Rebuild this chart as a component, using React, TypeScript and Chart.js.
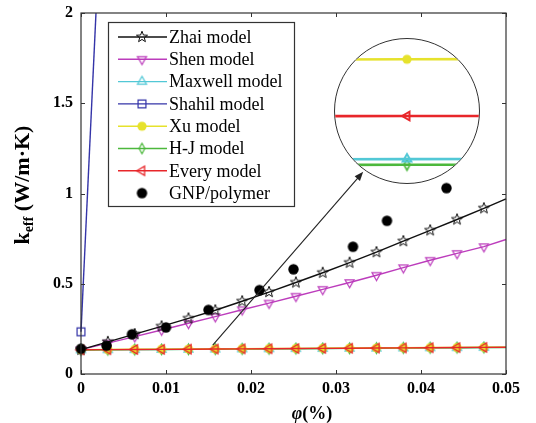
import React, { useEffect, useRef } from 'react';
import { Chart, registerables } from 'chart.js';

Chart.register(...registerables);

const FONT = "'Liberation Serif', 'Times New Roman', serif";

// volume fraction at which model curves are sampled (last one carries no marker)
const phi = [0, 0.00316, 0.00632, 0.00948, 0.01264, 0.0158, 0.01896, 0.02212, 0.02528, 0.02844, 0.0316, 0.03476, 0.03792, 0.04108, 0.04424, 0.0474, 0.05];

const zhai = [0.135, 0.178, 0.221, 0.264, 0.308, 0.353, 0.403, 0.454, 0.507, 0.561, 0.617, 0.675, 0.736, 0.796, 0.856, 0.918, 0.970];
const shen = [0.135, 0.171, 0.207, 0.244, 0.281, 0.318, 0.356, 0.393, 0.431, 0.469, 0.507, 0.547, 0.589, 0.630, 0.668, 0.706, 0.745];
const maxwell = [0.13324, 0.13414, 0.13504, 0.13594, 0.13674, 0.13764, 0.13854, 0.13944, 0.14034, 0.14124, 0.14204, 0.14294, 0.14384, 0.14474, 0.14564, 0.14654, 0.14724];
const xu = [0.1350, 0.1359, 0.1368, 0.1377, 0.1385, 0.1394, 0.1403, 0.1412, 0.1421, 0.1430, 0.1438, 0.1447, 0.1456, 0.1465, 0.1474, 0.1483, 0.1490];
const hj = [0.13314, 0.13404, 0.13494, 0.13584, 0.13664, 0.13754, 0.13844, 0.13934, 0.14024, 0.14114, 0.14194, 0.14284, 0.14374, 0.14464, 0.14554, 0.14644, 0.14714];
const every = [0.1340, 0.1349, 0.1358, 0.1367, 0.1375, 0.1384, 0.1393, 0.1402, 0.1411, 0.1420, 0.1428, 0.1437, 0.1446, 0.1455, 0.1464, 0.1473, 0.1480];

const shahilPhi = [0, 0.00316];
const shahil = [0.234, 3.40];

const gnpPhi = [0, 0.003, 0.006, 0.01, 0.015, 0.021, 0.025, 0.032, 0.036, 0.043];
const gnp = [0.14, 0.157, 0.22, 0.258, 0.355, 0.465, 0.58, 0.705, 0.849, 1.03];

const xTicks = [0, 0.01, 0.02, 0.03, 0.04, 0.05];
const xTickLabels = ['0', '0.01', '0.02', '0.03', '0.04', '0.05'];
const yTicks = [0, 0.5, 1, 1.5, 2];
const yTickLabels = ['0', '0.5', '1', '1.5', '2'];

const legendLabels = ['Zhai model', 'Shen model', 'Maxwell model', 'Shahil model', 'Xu model', 'H-J model', 'Every model', 'GNP/polymer'];

// magnified view (inset) around one sample point
const insetCenterIndex = 5;
const insetHalfWidth = 0.00001;
const insetYMin = 0.137218;
const insetYMax = 0.139758;
const arrowFrom = [0.0155, 0.16];
const arrowTo = [0.0332, 1.12];

const C = {
  zhai: '#111111',
  shen: '#bc3cbc',
  maxwell: '#52c8d6',
  shahil: '#3434a8',
  xu: '#e6e22c',
  hj: '#4cb83c',
  every: '#e8262a',
  gnp: '#000000',
};

type Shape = 'star' | 'triDown' | 'triUp' | 'triLeft' | 'square' | 'diamond' | 'circle';

function makeMarker(shape: Shape, r: number, stroke: string | null, fill: string | null, lw: number): HTMLCanvasElement {
  const pad = Math.ceil(lw) + 1;
  const size = Math.ceil(2 * r) + 2 * pad;
  const c = document.createElement('canvas');
  c.width = size;
  c.height = size;
  const g = c.getContext('2d')!;
  const cx = size / 2;
  const cy = size / 2;
  g.beginPath();
  if (shape === 'star') {
    for (let i = 0; i < 10; i++) {
      const a = -Math.PI / 2 + (i * Math.PI) / 5;
      const rr = i % 2 === 0 ? r : r * 0.42;
      const px = cx + rr * Math.cos(a);
      const py = cy + rr * Math.sin(a);
      if (i === 0) g.moveTo(px, py);
      else g.lineTo(px, py);
    }
  } else if (shape === 'triDown') {
    g.moveTo(cx, cy + r);
    g.lineTo(cx - r * 0.87, cy - r * 0.5);
    g.lineTo(cx + r * 0.87, cy - r * 0.5);
  } else if (shape === 'triUp') {
    g.moveTo(cx, cy - r);
    g.lineTo(cx - r * 0.87, cy + r * 0.5);
    g.lineTo(cx + r * 0.87, cy + r * 0.5);
  } else if (shape === 'triLeft') {
    g.moveTo(cx - r, cy);
    g.lineTo(cx + r * 0.5, cy - r * 0.87);
    g.lineTo(cx + r * 0.5, cy + r * 0.87);
  } else if (shape === 'square') {
    g.rect(cx - r * 0.82, cy - r * 0.82, r * 1.64, r * 1.64);
  } else if (shape === 'diamond') {
    g.moveTo(cx, cy - r);
    g.lineTo(cx + r * 0.55, cy);
    g.lineTo(cx, cy + r);
    g.lineTo(cx - r * 0.55, cy);
  } else {
    g.arc(cx, cy, r, 0, Math.PI * 2);
  }
  g.closePath();
  if (fill) {
    g.fillStyle = fill;
    g.fill();
  }
  if (stroke) {
    g.strokeStyle = stroke;
    g.lineWidth = lw;
    g.lineJoin = 'miter';
    g.stroke();
  }
  return c;
}

const pts = (xs: number[], ys: number[]) => xs.map((x, i) => ({ x, y: ys[i] }));

export default function App() {
  const mainRef = useRef<HTMLCanvasElement>(null);
  const insetRef = useRef<HTMLCanvasElement>(null);

  useEffect(() => {
    const m = {
      zhai: makeMarker('star', 5.8, C.zhai, null, 1),
      shen: makeMarker('triDown', 5.2, C.shen, null, 1.2),
      maxwell: makeMarker('triUp', 5.2, C.maxwell, null, 1.2),
      shahil: makeMarker('square', 4.8, C.shahil, null, 1.2),
      xu: makeMarker('circle', 4.6, null, C.xu, 1),
      hj: makeMarker('diamond', 5.2, C.hj, null, 1.2),
      every: makeMarker('triLeft', 5.2, C.every, null, 1.3),
      gnp: makeMarker('circle', 5.2, null, C.gnp, 1),
    };
    const last = phi.length - 1;
    const series = (label: string, ys: number[], color: string, marker: HTMLCanvasElement, order: number) => ({
      label,
      data: pts(phi, ys),
      borderColor: color,
      backgroundColor: color,
      borderWidth: 1.4,
      pointStyle: marker,
      pointRadius: (c: any) => (c.dataIndex === last ? 0 : 5),
      pointHoverRadius: 0,
      showLine: true,
      tension: 0,
      order,
      clip: false,
    });

    const datasets: any[] = [
      series(legendLabels[0], zhai, C.zhai, m.zhai, 5),
      series(legendLabels[1], shen, C.shen, m.shen, 6),
      series(legendLabels[2], maxwell, C.maxwell, m.maxwell, 4),
      {
        label: legendLabels[3],
        data: pts(shahilPhi, shahil),
        borderColor: C.shahil,
        backgroundColor: C.shahil,
        borderWidth: 1.4,
        pointStyle: m.shahil,
        pointRadius: 5,
        pointHoverRadius: 0,
        showLine: true,
        tension: 0,
        order: 7,
        clip: { left: 10, top: 0, right: 0, bottom: 10 },
      },
      series(legendLabels[4], xu, C.xu, m.xu, 2),
      series(legendLabels[5], hj, C.hj, m.hj, 3),
      series(legendLabels[6], every, C.every, m.every, 1),
      {
        label: legendLabels[7],
        data: pts(gnpPhi, gnp),
        borderColor: C.gnp,
        backgroundColor: C.gnp,
        pointStyle: m.gnp,
        pointRadius: 5,
        pointHoverRadius: 0,
        showLine: false,
        order: 0,
        clip: false,
      },
    ];
    const legendMarkers = [m.zhai, m.shen, m.maxwell, m.shahil, m.xu, m.hj, m.every, m.gnp];

    const decor = {
      id: 'decor',
      afterDatasetsDraw(chart: any) {
        const { ctx, chartArea: a, scales } = chart;
        const sx = scales.x;
        const sy = scales.y;
        ctx.save();
        // arrow pointing to the magnified view
        const x0 = sx.getPixelForValue(arrowFrom[0]);
        const y0 = sy.getPixelForValue(arrowFrom[1]);
        const x1 = sx.getPixelForValue(arrowTo[0]);
        const y1 = sy.getPixelForValue(arrowTo[1]);
        const ang = Math.atan2(y1 - y0, x1 - x0);
        ctx.strokeStyle = '#222';
        ctx.fillStyle = '#222';
        ctx.lineWidth = 1.1;
        ctx.beginPath();
        ctx.moveTo(x0, y0);
        ctx.lineTo(x1 - 7 * Math.cos(ang), y1 - 7 * Math.sin(ang));
        ctx.stroke();
        ctx.beginPath();
        ctx.moveTo(x1, y1);
        ctx.lineTo(x1 - 9 * Math.cos(ang) + 3.5 * Math.sin(ang), y1 - 9 * Math.sin(ang) - 3.5 * Math.cos(ang));
        ctx.lineTo(x1 - 9 * Math.cos(ang) - 3.5 * Math.sin(ang), y1 - 9 * Math.sin(ang) + 3.5 * Math.cos(ang));
        ctx.closePath();
        ctx.fill();

        // frame with inward ticks
        ctx.strokeStyle = '#333';
        ctx.lineWidth = 1.2;
        ctx.strokeRect(a.left, a.top, a.right - a.left, a.bottom - a.top);
        ctx.lineWidth = 1;
        ctx.beginPath();
        xTicks.forEach((v) => {
          const px = Math.round(sx.getPixelForValue(v)) + 0.5;
          ctx.moveTo(px, a.bottom);
          ctx.lineTo(px, a.bottom - 4);
          ctx.moveTo(px, a.top);
          ctx.lineTo(px, a.top + 4);
        });
        yTicks.forEach((v) => {
          const py = Math.round(sy.getPixelForValue(v)) + 0.5;
          ctx.moveTo(a.left, py);
          ctx.lineTo(a.left + 4, py);
          ctx.moveTo(a.right, py);
          ctx.lineTo(a.right - 4, py);
        });
        ctx.stroke();
        ctx.restore();
      },
      afterDraw(chart: any) {
        const { ctx } = chart;
        ctx.save();
        // legend
        const bx = 108.5;
        const by = 22.5;
        const bw = 186;
        const bh = 184;
        ctx.fillStyle = '#fff';
        ctx.fillRect(bx, by, bw, bh);
        ctx.strokeStyle = '#333';
        ctx.lineWidth = 1.2;
        ctx.strokeRect(bx, by, bw, bh);
        ctx.font = `18px ${FONT}`;
        ctx.textBaseline = 'middle';
        ctx.textAlign = 'left';
        chart.data.datasets.forEach((ds: any, i: number) => {
          const y = 37 + 22.3 * i;
          if (ds.showLine) {
            ctx.strokeStyle = ds.borderColor;
            ctx.lineWidth = 1.4;
            ctx.beginPath();
            ctx.moveTo(118, y);
            ctx.lineTo(167, y);
            ctx.stroke();
          }
          const mk = legendMarkers[i];
          ctx.drawImage(mk, 142 - mk.width / 2, y - mk.height / 2);
          ctx.fillStyle = '#000';
          ctx.fillText(ds.label, 169, y + 1);
        });

        // x axis title: phi(%)
        ctx.fillStyle = '#000';
        ctx.textBaseline = 'alphabetic';
        const fItal = `italic bold 18px ${FONT}`;
        const fBold = `bold 18px ${FONT}`;
        ctx.font = fItal;
        const wPhi = ctx.measureText('\u03C6').width;
        ctx.font = fBold;
        const wPct = ctx.measureText('(%)').width;
        const xStart = 312 - (wPhi + wPct) / 2;
        ctx.font = fItal;
        ctx.fillText('\u03C6', xStart, 419);
        ctx.font = fBold;
        ctx.fillText('(%)', xStart + wPhi, 419);

        // y axis title: k_eff (W/m·K)
        const fBig = `bold 22px ${FONT}`;
        const fSub = `bold 14px ${FONT}`;
        ctx.font = fBig;
        const wk = ctx.measureText('k').width;
        const wUnit = ctx.measureText(' (W/m\u00B7K)').width;
        ctx.font = fSub;
        const wSub = ctx.measureText('eff').width;
        const total = wk + wSub + wUnit;
        ctx.translate(29, 185);
        ctx.rotate(-Math.PI / 2);
        let tx = -total / 2;
        ctx.font = fBig;
        ctx.fillText('k', tx, 0);
        tx += wk;
        ctx.font = fSub;
        ctx.fillText('eff', tx, 4);
        tx += wSub;
        ctx.font = fBig;
        ctx.fillText(' (W/m\u00B7K)', tx, 0);
        ctx.restore();
      },
    };

    const tickFont = { family: FONT, size: 16, weight: 'bold' as const };

    const main = new Chart(mainRef.current!, {
      type: 'line',
      data: { datasets },
      options: {
        responsive: false,
        animation: false,
        devicePixelRatio: 1,
        events: [],
        layout: { autoPadding: false, padding: { left: 0, top: 13, right: 30, bottom: 0 } },
        plugins: { legend: { display: false }, tooltip: { enabled: false } },
        scales: {
          x: {
            type: 'linear',
            min: 0,
            max: 0.05,
            afterFit: (s: any) => {
              s.height = 49;
              s.paddingLeft = 0;
              s.paddingRight = 0;
            },
            afterBuildTicks: (s: any) => {
              s.ticks = xTicks.map((v) => ({ value: v }));
            },
            grid: { display: false, drawTicks: false },
            border: { display: false },
            ticks: {
              padding: 5,
              font: tickFont,
              color: '#000',
              maxRotation: 0,
              autoSkip: false,
              callback: (_v: any, i: number) => xTickLabels[i],
            },
          },
          y: {
            type: 'linear',
            min: 0,
            max: 2,
            afterFit: (s: any) => {
              s.width = 81;
              s.paddingTop = 0;
              s.paddingBottom = 0;
            },
            afterBuildTicks: (s: any) => {
              s.ticks = yTicks.map((v) => ({ value: v }));
            },
            grid: { display: false, drawTicks: false },
            border: { display: false },
            ticks: {
              padding: 8,
              font: tickFont,
              color: '#000',
              autoSkip: false,
              callback: (_v: any, i: number) => yTickLabels[i],
            },
          },
        },
      } as any,
      plugins: [decor],
    });

    const im = {
      xu: makeMarker('circle', 4.6, null, C.xu, 1),
      every: makeMarker('triLeft', 5, C.every, null, 2),
      maxwell: makeMarker('triUp', 5, C.maxwell, null, 2),
      hj: makeMarker('diamond', 5.5, C.hj, null, 1.6),
    };
    const insetSeries = (label: string, ys: number[], color: string, marker: HTMLCanvasElement) => ({
      label,
      data: pts(phi, ys),
      borderColor: color,
      backgroundColor: color,
      borderWidth: 2.6,
      pointStyle: marker,
      pointRadius: 5,
      pointHoverRadius: 0,
      tension: 0,
    });
    const cx = phi[insetCenterIndex];
    const inset = new Chart(insetRef.current!, {
      type: 'line',
      data: {
        datasets: [
          insetSeries('Xu model', xu, C.xu, im.xu),
          insetSeries('Every model', every, C.every, im.every),
          insetSeries('Maxwell model', maxwell, C.maxwell, im.maxwell),
          insetSeries('H-J model', hj, C.hj, im.hj),
        ],
      },
      options: {
        responsive: false,
        animation: false,
        devicePixelRatio: 1,
        events: [],
        layout: { autoPadding: false, padding: 0 },
        plugins: { legend: { display: false }, tooltip: { enabled: false } },
        scales: {
          x: { type: 'linear', display: false, min: cx - insetHalfWidth, max: cx + insetHalfWidth },
          y: { type: 'linear', display: false, min: insetYMin, max: insetYMax },
        },
      } as any,
    });

    return () => {
      main.destroy();
      inset.destroy();
    };
  }, []);

  return (
    <div style={{ position: 'absolute', left: 0, top: 0, width: 536, height: 423, background: '#fff' }}>
      <canvas ref={mainRef} width={536} height={423} style={{ display: 'block' }} />
      <div
        style={{
          position: 'absolute',
          left: 334,
          top: 38,
          width: 146,
          height: 146,
          border: '1px solid #333',
          borderRadius: '50%',
          overflow: 'hidden',
          boxSizing: 'border-box',
          background: '#fff',
        }}
      >
        <canvas ref={insetRef} width={144} height={144} style={{ display: 'block' }} />
      </div>
    </div>
  );
}
